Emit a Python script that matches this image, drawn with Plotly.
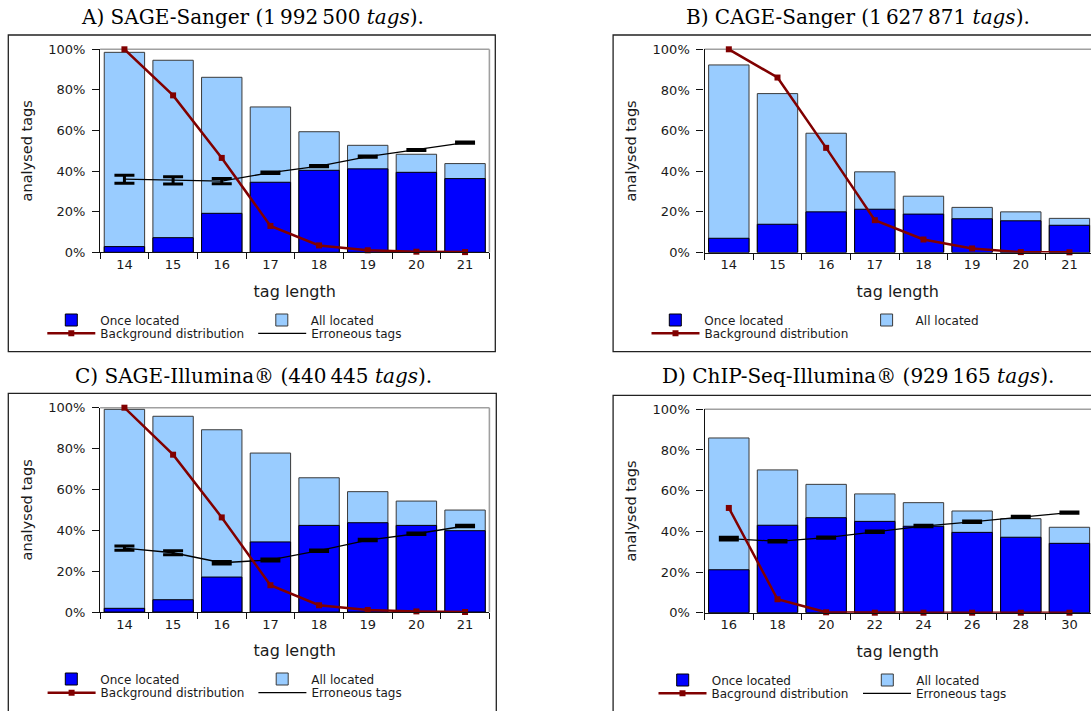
import plotly.graph_objects as go

W, H = 1091, 711

# ---------------- data ----------------
tag_len_sanger = ["14", "15", "16", "17", "18", "19", "20", "21"]
tag_len_chip = ["16", "18", "20", "22", "24", "26", "28", "30"]

# A) SAGE-Sanger
a_once = [2.8, 7.2, 19.2, 34.5, 40.4, 41.1, 39.4, 36.3]
a_all = [98.5, 94.6, 86.2, 71.6, 59.4, 52.7, 48.3, 43.7]
a_bg = [100.0, 77.3, 46.5, 13.0, 3.4, 1.0, 0.3, 0.1]
a_err = [36.0, 35.4, 35.1, 39.2, 42.5, 47.1, 50.4, 54.0]
a_err_pm = [2.0, 1.8, 1.3, 0.4, 0.3, 0.3, 0.3, 0.3]

# B) CAGE-Sanger
b_once = [7.0, 13.9, 20.0, 21.3, 18.9, 16.6, 15.6, 13.4]
b_all = [92.3, 78.2, 58.7, 39.7, 27.7, 22.2, 20.0, 16.8]
b_bg = [100.0, 86.1, 51.5, 15.9, 6.4, 2.0, 0.2, 0.1]

# C) SAGE-Illumina
c_once = [1.8, 6.0, 17.1, 34.3, 42.4, 43.7, 42.4, 39.8]
c_all = [99.2, 95.8, 89.2, 77.8, 65.7, 58.9, 54.3, 49.9]
c_bg = [100.0, 77.0, 46.3, 13.1, 3.3, 1.0, 0.3, 0.0]
c_err = [31.3, 29.0, 24.1, 25.5, 30.0, 35.2, 38.3, 42.1]
c_err_pm = [1.05, 1.0, 0.65, 0.5, 0.35, 0.35, 0.35, 0.35]

# D) ChIP-Seq-Illumina
d_once = [21.1, 43.0, 46.7, 44.9, 42.5, 39.5, 37.1, 34.1]
d_all = [85.9, 70.2, 63.1, 58.4, 54.1, 50.0, 46.2, 42.0]
d_bg = [51.5, 6.6, 0.2, 0.0, 0.0, 0.0, 0.0, 0.0]
d_err = [36.4, 35.1, 36.9, 39.8, 42.6, 44.7, 47.1, 49.2]
d_err_pm = [0.65, 0.35, 0.35, 0.35, 0.35, 0.35, 0.35, 0.35]

y_ticks = [0, 20, 40, 60, 80, 100]
y_tick_text = ["0%", "20%", "40%", "60%", "80%", "100%"]

titles = [
    "A) SAGE-Sanger (1\u2009992\u2009500 <i>tags</i>).",
    "B) CAGE-Sanger (1\u2009627\u2009871 <i>tags</i>).",
    "C) SAGE-Illumina\u00ae (440\u2009445 <i>tags</i>).",
    "D) ChIP-Seq-Illumina\u00ae (929\u2009165 <i>tags</i>).",
]

panel_data = [
    dict(cats=tag_len_sanger, once=a_once, all_=a_all, bg=a_bg, err=a_err, errpm=a_err_pm,
         bg_name="Background distribution"),
    dict(cats=tag_len_sanger, once=b_once, all_=b_all, bg=b_bg, err=None, errpm=None,
         bg_name="Background distribution"),
    dict(cats=tag_len_sanger, once=c_once, all_=c_all, bg=c_bg, err=c_err, errpm=c_err_pm,
         bg_name="Background distribution"),
    dict(cats=tag_len_chip, once=d_once, all_=d_all, bg=d_bg, err=d_err, errpm=d_err_pm,
         bg_name="Bacground distribution"),
]

# ---------------- layout geometry (pixels) ----------------
BAND = 48.66
panel_geom = [
    dict(xd=(100.1, 489.4), yd=(49.3, 252.3), cut=False, title_xy=(252, 17),
         box=(8.3, 35.0, 495.3, 351.7),
         leg=[(71.3, 320.0), (281.8, 320.0), (71.3, 333.3), (282.2, 333.3)]),
    dict(xd=(704.5, 1091.0), yd=(49.3, 252.5), cut=True, title_xy=(858, 17),
         box=(613.1, 35.0, 1110.0, 351.7),
         leg=[(675.3, 320.0), (886.6, 320.0), (675.5, 333.3), None]),
    dict(xd=(100.1, 489.4), yd=(407.7, 612.0), cut=False, title_xy=(253, 376),
         box=(8.3, 393.3, 496.3, 730.0),
         leg=[(71.3, 679.0), (282.2, 679.0), (71.6, 692.7), (282.4, 692.7)]),
    dict(xd=(704.5, 1091.0), yd=(409.3, 612.7), cut=True, title_xy=(858, 376),
         box=(613.1, 395.3, 1110.0, 730.0),
         leg=[(682.7, 680.0), (887.3, 680.0), (682.5, 693.3), (887.0, 693.3)]),
]

FONT = "DejaVu Sans"
TXT = "#1a1a1a"
ITEMW = 48
CENTER_OFF = (ITEMW + 10) / 2.0


def fx(v):
    return v / W


def fy(v):
    return 1 - v / H


fig = go.Figure()
layout = dict(
    width=W, height=H,
    margin=dict(l=0, r=0, t=0, b=0, autoexpand=False),
    paper_bgcolor="white", plot_bgcolor="white",
    barmode="overlay", bargap=0.17,
    showlegend=True,
    font=dict(family=FONT, color=TXT),
)
shapes = []
annotations = []
legend_idx = 0

for i, (pdat, geo) in enumerate(zip(panel_data, panel_geom)):
    n = i + 1
    xa = "x" if n == 1 else f"x{n}"
    ya = "y" if n == 1 else f"y{n}"
    xkey = "xaxis" if n == 1 else f"xaxis{n}"
    ykey = "yaxis" if n == 1 else f"yaxis{n}"

    traces = []
    traces.append(go.Bar(x=pdat["cats"], y=pdat["all_"], name="All located",
                         marker=dict(color="#99ccff", line=dict(color="#3a3a3a", width=1))))
    traces.append(go.Bar(x=pdat["cats"], y=pdat["once"], name="Once located",
                         marker=dict(color="#0000ff", line=dict(color="#000000", width=1))))
    if pdat["err"] is not None:
        traces.append(go.Scatter(x=pdat["cats"], y=pdat["err"], name="Erroneous tags", mode="lines",
                                 line=dict(color="black", width=1.3),
                                 error_y=dict(type="data", array=pdat["errpm"], visible=True,
                                              thickness=3, width=10, color="black"),
                                 cliponaxis=False))
    traces.append(go.Scatter(x=pdat["cats"], y=pdat["bg"], name=pdat["bg_name"], mode="lines+markers",
                             line=dict(color="#800000", width=2.5),
                             marker=dict(symbol="square", size=6, color="#800000"),
                             cliponaxis=False))

    # legend slots: Once, All, Background, Erroneous
    order = {"Once located": 0, "All located": 1, pdat["bg_name"]: 2, "Erroneous tags": 3}
    for tr in traces:
        slot = order[tr.name]
        pos = geo["leg"][slot]
        legend_idx += 1
        lname = "legend" if legend_idx == 1 else f"legend{legend_idx}"
        tr.update(xaxis=xa, yaxis=ya, legend=lname, showlegend=True, hoverinfo="skip")
        layout[lname] = dict(
            x=fx(pos[0] - CENTER_OFF), xanchor="left",
            y=fy(pos[1]), yanchor="middle",
            orientation="h", bgcolor="rgba(0,0,0,0)", borderwidth=0,
            itemwidth=ITEMW, font=dict(family=FONT, size=12, color=TXT),
            itemclick=False, itemdoubleclick=False,
        )
        fig.add_trace(tr)

    x0, x1 = geo["xd"]
    rng_end = -0.5 + (x1 - x0) / BAND
    layout[xkey] = dict(
        domain=[fx(x0), fx(x1)], anchor=ya, type="category",
        range=[-0.5, rng_end], tickson="boundaries",
        ticks="outside", ticklen=6, tickwidth=1.2, tickcolor="#111",
        showline=True, linecolor="#111", linewidth=1.3,
        showgrid=False, zeroline=False,
        tickfont=dict(family=FONT, size=13, color=TXT),
        title=dict(text="tag length", font=dict(family=FONT, size=16, color=TXT), standoff=14),
    )
    yt, yb = geo["yd"]
    layout[ykey] = dict(
        domain=[fy(yb), fy(yt)], anchor=xa, range=[0, 100],
        tickmode="array", tickvals=y_ticks, ticktext=y_tick_text,
        ticks="outside", ticklen=7, tickwidth=1.2, tickcolor="#111",
        ticklabelstandoff=4,
        showline=True, linecolor="#111", linewidth=1.3,
        showgrid=False, zeroline=False,
        tickfont=dict(family=FONT, size=13, color=TXT),
        title=dict(text="analysed tags", font=dict(family=FONT, size=14.5, color=TXT), standoff=12),
    )

    # grey top / right frame of the plot area
    dref_x = f"{xa} domain"
    dref_y = f"{ya} domain"
    shapes.append(dict(type="line", xref=dref_x, yref=dref_y, x0=0, x1=1, y0=1, y1=1,
                       line=dict(color="#a0a0a0", width=1.6), layer="below"))
    if not geo["cut"]:
        shapes.append(dict(type="line", xref=dref_x, yref=dref_y, x0=1, x1=1, y0=0, y1=1,
                           line=dict(color="#a0a0a0", width=1.6), layer="below"))

    # outer panel frame
    bx0, by0, bx1, by1 = geo["box"]
    shapes.append(dict(type="rect", xref="paper", yref="paper",
                       x0=fx(bx0), x1=fx(bx1), y0=fy(by1), y1=fy(by0),
                       line=dict(color="#222", width=1.3), fillcolor="rgba(0,0,0,0)", layer="below"))

    tx, ty = geo["title_xy"]
    annotations.append(dict(text=titles[i], x=fx(tx), y=fy(ty), xref="paper", yref="paper",
                            xanchor="center", yanchor="middle", showarrow=False,
                            font=dict(family="DejaVu Serif", size=20, color="black")))

layout["shapes"] = shapes
layout["annotations"] = annotations
fig.update_layout(**layout)

fig.write_html("out.html")
